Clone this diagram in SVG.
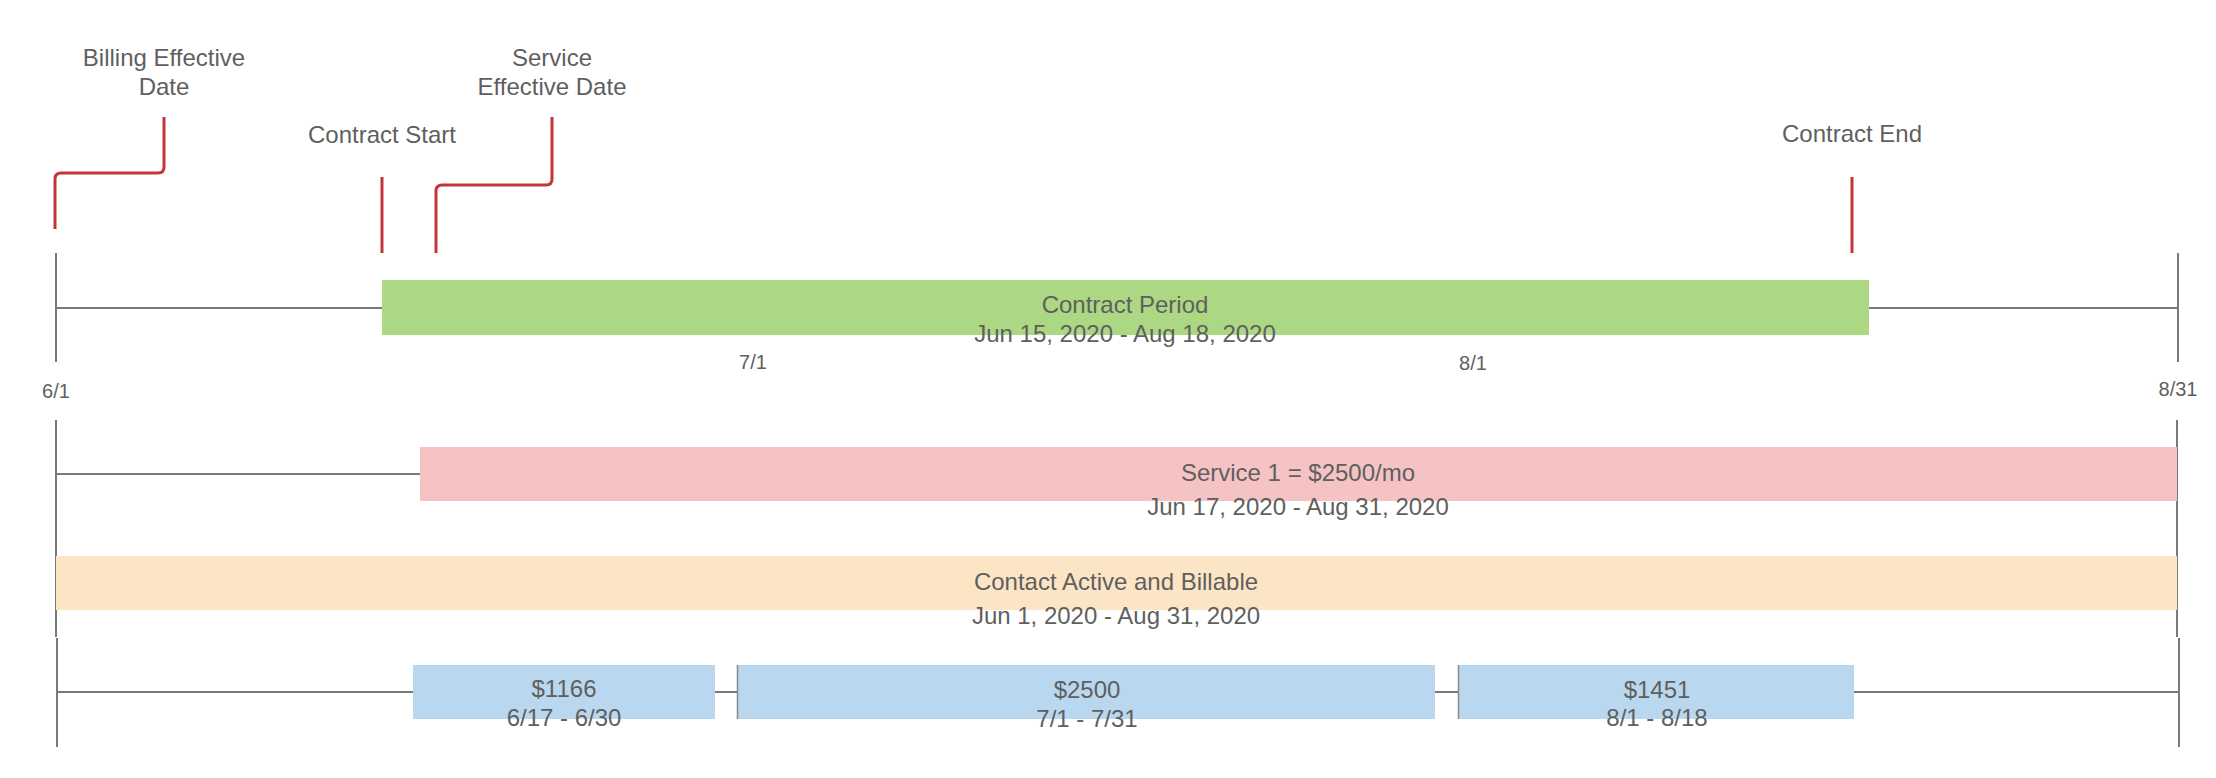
<svg xmlns="http://www.w3.org/2000/svg" width="2216" height="778" viewBox="0 0 2216 778">
<style>
text{font-family:"Liberation Sans",Arial,sans-serif;fill:#5f5f5f;text-anchor:middle}
.t{font-size:24px}
.s{font-size:20px}
.g{stroke:#7a7a7a;stroke-width:2;fill:none}
.r{stroke:#c4343b;stroke-width:3;fill:none}
.e{stroke:#8a8a8a;stroke-width:1.5}
</style>
<rect width="2216" height="778" fill="#ffffff"/>
<g id="connectors">
<path class="r" d="M164 117 V167 Q164 173 158 173 H61 Q55 173 55 179 V229"/>
<path class="r" d="M552 117 V179 Q552 185 546 185 H442 Q436 185 436 191 V253"/>
<path class="r" d="M382 177 V253"/>
<path class="r" d="M1852 177 V253"/>
<path class="g" d="M56 253 V362 M2178 253 V362 M56 308 H2178"/>
<path class="g" d="M56 420 V637 M2177 420 V637 M56 474 H420"/>
<path class="g" d="M57 638 V747 M2179 638 V747 M57 692 H2179"/>
</g>
<g id="label-billing"><text class="t" x="164" y="66">Billing Effective</text><text class="t" x="164" y="95">Date</text></g>
<g id="label-contract-start"><text class="t" x="382" y="143">Contract Start</text></g>
<g id="label-service"><text class="t" x="552" y="66">Service</text><text class="t" x="552" y="95">Effective Date</text></g>
<g id="label-contract-end"><text class="t" x="1852" y="142">Contract End</text></g>
<g id="contract-period"><rect x="382" y="280" width="1487" height="55" fill="#acd783"/><text class="t" x="1125" y="313">Contract Period</text><text class="t" x="1125" y="342">Jun 15, 2020 - Aug 18, 2020</text></g>
<g id="ticks"><text class="s" x="56" y="398">6/1</text><text class="s" x="753" y="369">7/1</text><text class="s" x="1473" y="370">8/1</text><text class="s" x="2178" y="396">8/31</text></g>
<g id="service1"><rect x="420" y="447" width="1757" height="54" fill="#f5c3c3"/><text class="t" x="1298" y="481">Service 1 = $2500/mo</text><text class="t" x="1298" y="515">Jun 17, 2020 - Aug 31, 2020</text></g>
<g id="active"><rect x="56" y="556" width="2121" height="54" fill="#fce5c5"/><text class="t" x="1116" y="590">Contact Active and Billable</text><text class="t" x="1116" y="624">Jun 1, 2020 - Aug 31, 2020</text></g>
<g id="bill1"><rect x="413" y="665" width="302" height="54" fill="#b9d7ee"/><text class="t" x="564" y="697">$1166</text><text class="t" x="564" y="726">6/17 - 6/30</text></g>
<g id="bill2"><rect x="737" y="665" width="698" height="54" fill="#b9d7ee"/><line class="e" x1="737.5" y1="665" x2="737.5" y2="719"/><text class="t" x="1087" y="698">$2500</text><text class="t" x="1087" y="727">7/1 - 7/31</text></g>
<g id="bill3"><rect x="1458" y="665" width="396" height="54" fill="#b9d7ee"/><line class="e" x1="1458.5" y1="665" x2="1458.5" y2="719"/><text class="t" x="1657" y="698">$1451</text><text class="t" x="1657" y="726">8/1 - 8/18</text></g>
</svg>
